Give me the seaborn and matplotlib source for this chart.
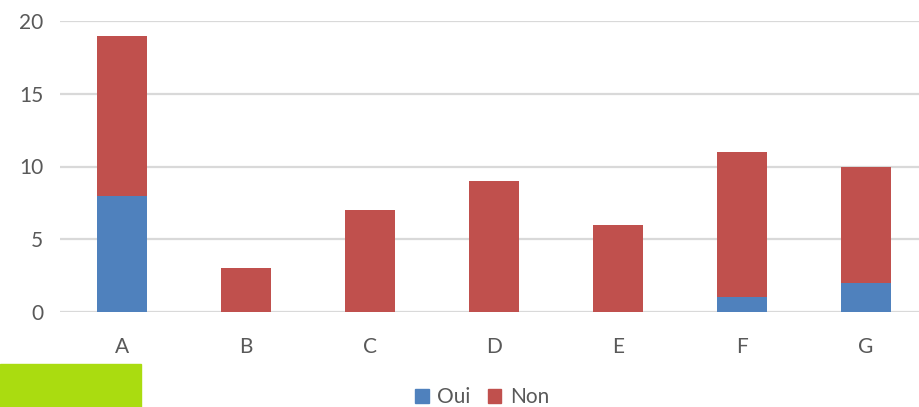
import numpy as np
import pandas as pd
import matplotlib
matplotlib.use("Agg")
import matplotlib.pyplot as plt
import seaborn as sns
from matplotlib.patches import Rectangle

categories = ["A", "B", "C", "D", "E", "F", "G"]
oui = [8, 0, 0, 0, 0, 1, 2]
non = [11, 3, 7, 9, 6, 10, 8]

BLUE = "#4F81BD"
RED = "#C0504D"
GRID = "#D9D9D9"
TEXT = "#595959"

df = pd.DataFrame({"cat": categories, "oui": oui, "non": non})
df["total"] = df["oui"] + df["non"]

sns.set_style("white")
plt.rcParams["font.family"] = ["Lato", "DejaVu Sans"]

fig = plt.figure(figsize=(9.2, 4.07), dpi=100)
ax = fig.add_axes([60 / 920, 95 / 407, 868 / 920, 291 / 407])

# stacked: total in red, Oui drawn over it in blue
sns.barplot(data=df, x="cat", y="total", color=RED, width=0.4, ax=ax,
            saturation=1, linewidth=0, zorder=3)
sns.barplot(data=df, x="cat", y="oui", color=BLUE, width=0.4, ax=ax,
            saturation=1, linewidth=0, zorder=4)

ax.set_xlim(-0.5, 6.5)
ax.set_ylim(0, 20)
ax.set_yticks([0, 5, 10, 15, 20])
ax.yaxis.grid(True, color=GRID, linewidth=1.6, zorder=0)
ax.set_axisbelow(True)
ax.set_xlabel("")
ax.set_ylabel("")
for s in ax.spines.values():
    s.set_visible(False)
ax.tick_params(axis="both", length=0, labelsize=15, colors=TEXT)
ax.tick_params(axis="y", pad=12)
ax.tick_params(axis="x", pad=18)

handles = [Rectangle((0, 0), 1, 1, color=BLUE), Rectangle((0, 0), 1, 1, color=RED)]
fig.legend(handles, ["Oui", "Non"], loc="center", bbox_to_anchor=(482 / 920, 10 / 407),
           ncol=2, frameon=False, fontsize=15, handlelength=0.65, handleheight=0.65,
           handletextpad=0.4, columnspacing=0.85, labelcolor=TEXT)

# lime block at lower left
fig.patches.append(Rectangle((0, 0), 141 / 920, 43 / 407, transform=fig.transFigure,
                             color="#AADC10", zorder=5))

fig.savefig("out.png", dpi=100)
